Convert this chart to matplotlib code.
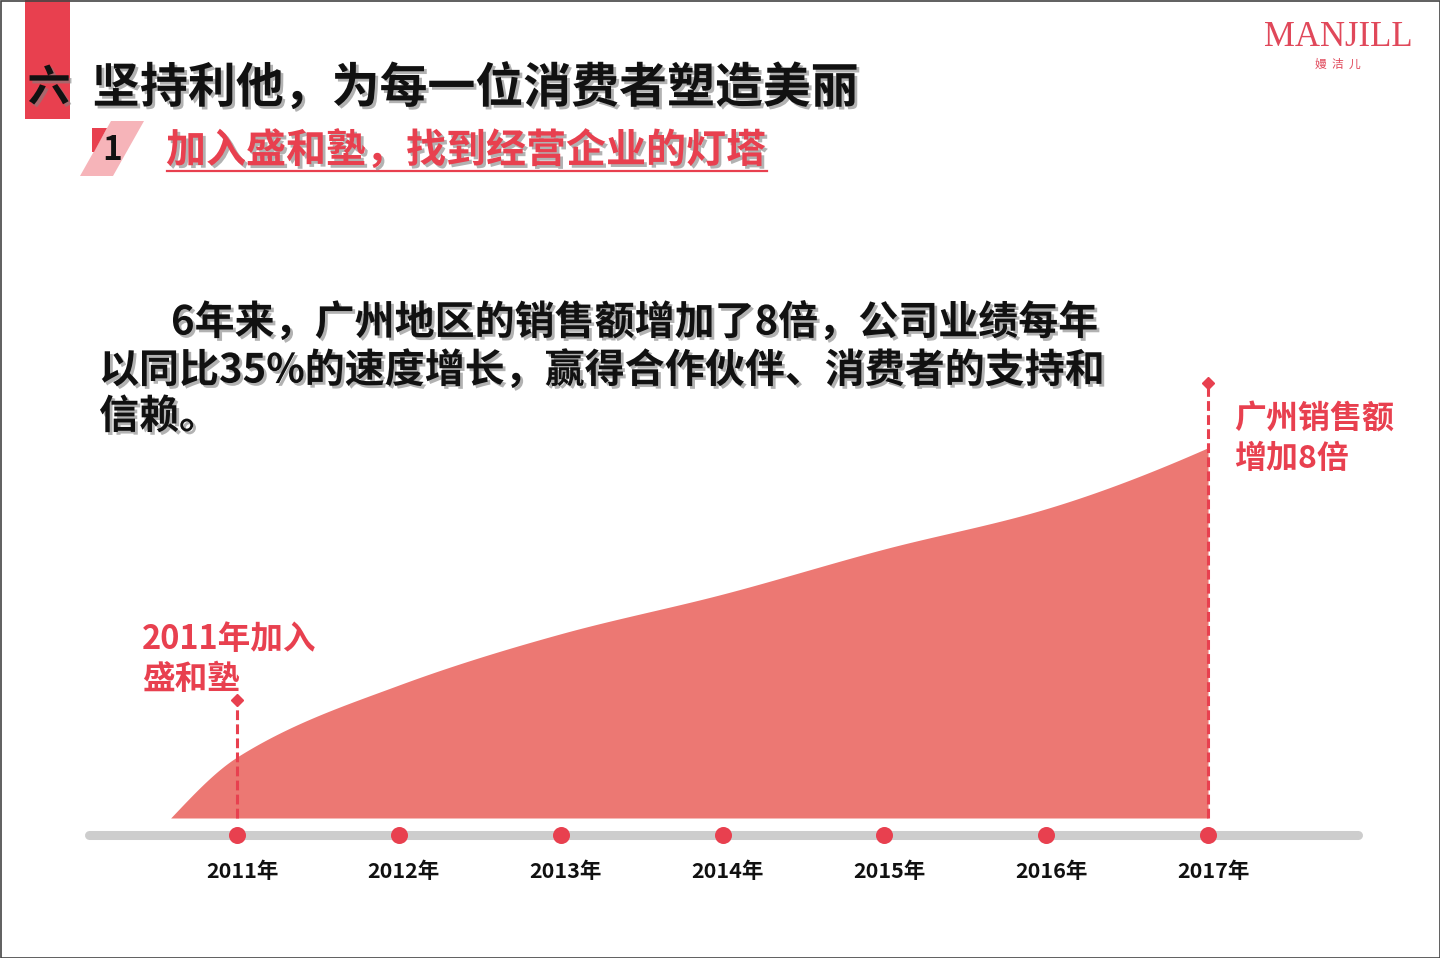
import numpy as np
import matplotlib
matplotlib.use("Agg")
import matplotlib.pyplot as plt
from matplotlib import patheffects as pe
from matplotlib.patches import Rectangle, Polygon

plt.rcParams['font.family'] = ['Noto Sans CJK SC', 'DejaVu Sans']

# ---------------- data ----------------
years = [2011, 2012, 2013, 2014, 2015, 2016, 2017]
year_labels = ['2011年', '2012年', '2013年', '2014年', '2015年', '2016年', '2017年']
curve_start_year = 2010.59          # where the sales area begins (value 0)
sales_index = [1.00, 2.18, 3.02, 3.67, 4.41, 5.07, 6.07]   # Guangzhou sales, 2011 = 1

title_num = '六'
title_text = '坚持利他，为每一位消费者塑造美丽'
sub_num = '1'
sub_text = '加入盛和塾，找到经营企业的灯塔'
body_lines = ['6年来，广州地区的销售额增加了8倍，公司业绩每年',
              '以同比35%的速度增长，赢得合作伙伴、消费者的支持和',
              '信赖。']
note_start = ['2011年加入', '盛和塾']
note_end = ['广州销售额', '增加8倍']
logo_main = 'MANJILL'
logo_sub = '嫚  洁  儿'

# ---------------- style ----------------
RED = '#E8404F'
AREA = '#EC7873'
PINK = '#F6B4B9'
GREY = '#CDCDCD'

W, H = 1440, 958
fig = plt.figure(figsize=(W / 100, H / 100), dpi=100, facecolor='white')

# chart axes: x in years, y in sales index
ppy = (1208 - 237) / 6.0      # pixels per year
ppu = 61.0                    # pixels per index unit
base_from_bottom = H - 818
ax = fig.add_axes([0, 0, 1, 1], zorder=1)
ax.patch.set_visible(False)
x0 = 2011 - 237 / ppy
ax.set_xlim(x0, x0 + W / ppy)
y0 = -base_from_bottom / ppu
ax.set_ylim(y0, y0 + H / ppu)
ax.axis('off')

# overlay axes in pixel coordinates for slide decorations
bg = fig.add_axes([0, 0, 1, 1], zorder=2)
bg.patch.set_visible(False)
bg.set_xlim(0, W)
bg.set_ylim(H, 0)
bg.axis('off')


def pchip(x, y, xs):
    x = np.asarray(x, float); y = np.asarray(y, float)
    h = np.diff(x); d = np.diff(y) / h
    n = len(x); m = np.zeros(n)
    for k in range(1, n - 1):
        if d[k - 1] * d[k] > 0:
            w1 = 2 * h[k] + h[k - 1]; w2 = h[k] + 2 * h[k - 1]
            m[k] = (w1 + w2) / (w1 / d[k - 1] + w2 / d[k])
    m[0] = ((2 * h[0] + h[1]) * d[0] - h[0] * d[1]) / (h[0] + h[1])
    if np.sign(m[0]) != np.sign(d[0]):
        m[0] = 0
    m[-1] = ((2 * h[-1] + h[-2]) * d[-1] - h[-1] * d[-2]) / (h[-1] + h[-2])
    if np.sign(m[-1]) != np.sign(d[-1]):
        m[-1] = 0
    idx = np.clip(np.searchsorted(x, xs) - 1, 0, n - 2)
    t = (xs - x[idx]) / h[idx]
    h00 = 2 * t**3 - 3 * t**2 + 1; h10 = t**3 - 2 * t**2 + t
    h01 = -2 * t**3 + 3 * t**2; h11 = t**3 - t**2
    return h00 * y[idx] + h10 * h[idx] * m[idx] + h01 * y[idx + 1] + h11 * h[idx] * m[idx + 1]


# area
cx = [curve_start_year] + years
cy = [0.0] + sales_index
xs = np.linspace(cx[0], cx[-1], 600)
ys = pchip(cx, cy, xs)
ax.fill_between(xs, 0, ys, color=AREA, lw=0, zorder=2)

# timeline
tl_y = -17 / ppu
ax.plot([x0 + 89 / ppy, x0 + 1358 / ppy], [tl_y, tl_y], color=GREY, lw=6.5,
        solid_capstyle='round', zorder=3)
ax.scatter(years, [tl_y] * len(years), s=150, color=RED, zorder=4, lw=0)
for yr, lab in zip(years, year_labels):
    ax.text(yr + 5 / ppy, -54 / ppu, lab, ha='center', va='center',
            fontsize=15.5, fontweight='bold', color='#111111', zorder=5)

# dashed markers at first and last year
for yr, top_px in [(years[0], 118), (years[-1], 435)]:
    ax.plot([yr, yr], [0, top_px / ppu], color=RED, lw=2.2,
            ls=(0, (3.2, 1.4)), zorder=5)
    ax.plot([yr], [top_px / ppu], marker='D', ms=6, color=RED, zorder=6)

# ---------------- slide decorations ----------------
shadow = [pe.withSimplePatchShadow(offset=(2, -2), shadow_rgbFace='#808080', alpha=0.6)]

bg.add_patch(Rectangle((25, 0), 45, 119, color=RED, lw=0))
bg.text(49, 88, title_num, fontsize=31, fontweight='bold', color='#111111',
        ha='center', va='center', path_effects=shadow)
bg.text(92, 88, title_text, fontsize=34.5, fontweight='bold', color='#111111',
        ha='left', va='center', path_effects=shadow)

bg.add_patch(Polygon([(80, 176), (113, 176), (144, 121), (111, 121)], closed=True,
                     color=PINK, lw=0))
bg.add_patch(Polygon([(92, 128), (107, 128), (94, 152), (92, 152)], closed=True,
                     color=RED, lw=0))
bg.text(112, 150, sub_num, fontsize=24, fontweight='bold', color='#111111',
        ha='center', va='center')
bg.text(166, 151, sub_text, fontsize=28.8, fontweight='bold', color=RED,
        ha='left', va='center', path_effects=shadow)
bg.plot([167, 767], [171, 171], color=RED, lw=1.6)

# logo
bg.text(1338, 37, logo_main, family='Liberation Serif', fontsize=25, color='#E0485A',
        ha='center', va='center')
bg.text(1338, 64, logo_sub, fontsize=8.5, color='#E0485A', ha='center', va='center')

# body paragraph
for (bx, by), line in zip([(171, 323), (99, 371), (99, 417)], body_lines):
    bg.text(bx, by, line, fontsize=28.8, fontweight='bold', color='#111111',
            ha='left', va='center', path_effects=shadow)

# annotations
for by, line in zip([639, 680], note_start):
    bg.text(142, by, line, fontsize=23.5, fontweight='bold', color=RED,
            ha='left', va='center')
for by, line in zip([420, 459], note_end):
    bg.text(1234, by, line, fontsize=23, fontweight='bold', color=RED,
            ha='left', va='center')

# slide border
bg.add_patch(Rectangle((0.5, 0.5), W - 1, H - 1, fill=False, ec='#444444', lw=1.2))

fig.savefig('out.png', dpi=100, facecolor='white')
